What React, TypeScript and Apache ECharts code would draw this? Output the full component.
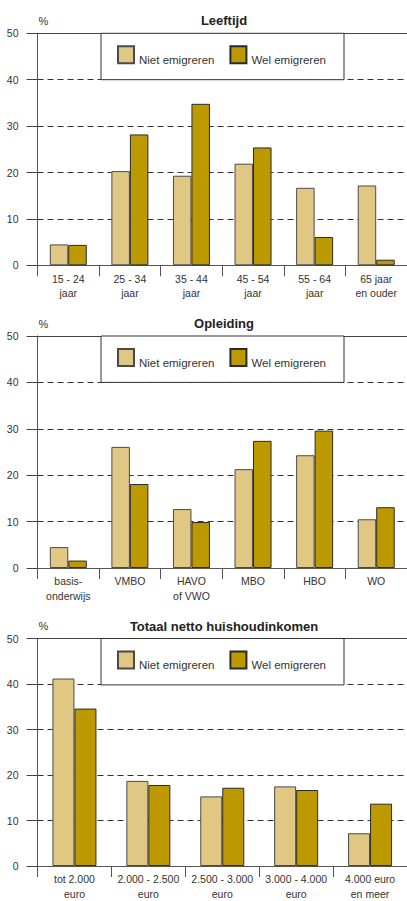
import React, { useEffect, useRef } from "react";
import * as echarts from "echarts";

const ageCats = ["15 - 24\njaar", "25 - 34\njaar", "35 - 44\njaar", "45 - 54\njaar", "55 - 64\njaar", "65 jaar\nen ouder"];
const ageNiet = [4.5, 20.3, 19.3, 21.9, 16.7, 17.2];
const ageWel = [4.4, 28.2, 34.8, 25.4, 6.1, 1.2];

const eduCats = ["basis-\nonderwijs", "VMBO", "HAVO\nof VWO", "MBO", "HBO", "WO"];
const eduNiet = [4.5, 26.1, 12.7, 21.3, 24.3, 10.5];
const eduWel = [1.6, 18.1, 9.9, 27.4, 29.6, 13.1];

const incCats = ["tot 2.000\neuro", "2.000 - 2.500\neuro", "2.500 - 3.000\neuro", "3.000 - 4.000\neuro", "4.000 euro\nen meer"];
const incNiet = [41.2, 18.7, 15.3, 17.5, 7.2];
const incWel = [34.6, 17.8, 17.2, 16.7, 13.7];

const titles = ["Leeftijd", "Opleiding", "Totaal netto huishoudinkomen"];
const seriesNames = ["Niet emigreren", "Wel emigreren"];
const yMin = 0;
const yMax = 50;
const yStep = 10;

const FONT = "'Liberation Sans', Arial, sans-serif";
const LIGHT = "#E0C784";
const DARK = "#BD9900";

export default function App() {
  const ref = useRef<HTMLDivElement>(null);
  useEffect(() => {
    document.body.style.margin = "0";
    if (!ref.current) return;
    const chart = echarts.init(ref.current, undefined, { renderer: "svg" });

    const panels = [
      { cats: ageCats, niet: ageNiet, wel: ageWel, top: 33.3, barW: 18.5 },
      { cats: eduCats, niet: eduNiet, wel: eduWel, top: 336, barW: 18.5 },
      { cats: incCats, niet: incNiet, wel: incWel, top: 638.5, barW: 22 },
    ];
    const H = 232;
    const LEFT = 37.5;
    const W = 370;

    const grid: any[] = [];
    const xAxis: any[] = [];
    const yAxis: any[] = [];
    const series: any[] = [];
    const legend: any[] = [];
    const graphic: any[] = [];

    panels.forEach((p, i) => {
      grid.push({ left: LEFT, top: p.top, width: W, height: H, containLabel: false });
      xAxis.push({
        type: "category",
        gridIndex: i,
        data: p.cats,
        position: "bottom",
        axisLine: { show: true, lineStyle: { color: "#555", width: 1 } },
        axisTick: { show: true, length: 11, lineStyle: { color: "#555", width: 1 } },
        axisLabel: { interval: 0, fontSize: 10.5, lineHeight: 14.5, margin: 6, color: "#333", fontFamily: FONT },
        splitLine: { show: false },
      });
      xAxis.push({
        type: "category",
        gridIndex: i,
        data: p.cats,
        position: "top",
        axisLine: { show: true, onZero: false, lineStyle: { color: "#444", width: 1 } },
        axisTick: { show: false },
        axisLabel: { show: false },
        splitLine: { show: false },
      });
      yAxis.push({
        type: "value",
        gridIndex: i,
        min: yMin,
        max: yMax,
        interval: yStep,
        axisLine: { show: true, lineStyle: { color: "#555", width: 1 } },
        axisTick: { show: true, length: 11, lineStyle: { color: "#444", width: 1 } },
        axisLabel: { fontSize: 10.5, margin: 19, color: "#333", fontFamily: FONT },
        splitLine: { show: true, lineStyle: { color: "#333", width: 1, type: [6, 4] } },
      });
      series.push({
        type: "bar",
        name: seriesNames[0],
        xAxisIndex: i * 2,
        yAxisIndex: i,
        data: p.niet,
        barWidth: p.barW,
        barGap: "0%",
        itemStyle: { color: LIGHT, borderColor: "#4a4a4a", borderWidth: 1 },
      });
      series.push({
        type: "bar",
        name: seriesNames[1],
        xAxisIndex: i * 2,
        yAxisIndex: i,
        data: p.wel,
        barWidth: p.barW,
        barGap: "0%",
        itemStyle: { color: DARK, borderColor: "#2a2a2a", borderWidth: 1 },
      });
      legend.push({
        data: seriesNames,
        left: 117,
        top: p.top + 12,
        icon: "rect",
        itemWidth: 16,
        itemHeight: 17,
        itemGap: 15,
        padding: 0,
        selectedMode: false,
        formatter: "{t|{name}}",
        textStyle: {
          fontSize: 11.5,
          color: "#333",
          fontFamily: FONT,
          rich: { t: { fontSize: 11.5, color: "#333", fontFamily: FONT, padding: [10, 0, 0, 0] } },
        },
      });
      graphic.push({
        type: "rect",
        z: 1,
        shape: { x: 101, y: p.top, width: 243, height: (H * yStep) / (yMax - yMin) },
        style: { fill: "#fff", stroke: "#333", lineWidth: 1 },
      });
      graphic.push({
        type: "text",
        z: 5,
        x: 224,
        y: p.top - 12.5,
        style: {
          text: titles[i],
          textAlign: "center",
          textVerticalAlign: "middle",
          fontSize: 13,
          fontWeight: "bold",
          fontFamily: FONT,
          fill: "#222",
        },
      });
      graphic.push({
        type: "text",
        z: 5,
        x: 38.5,
        y: p.top - 12.5,
        style: {
          text: "%",
          textAlign: "left",
          textVerticalAlign: "middle",
          fontSize: 11,
          fontFamily: FONT,
          fill: "#333",
        },
      });
    });

    chart.setOption({
      animation: false,
      backgroundColor: "#fff",
      textStyle: { fontFamily: FONT },
      grid,
      xAxis,
      yAxis,
      series,
      legend,
      graphic,
    });
    return () => chart.dispose();
  }, []);
  return <div ref={ref} style={{ width: 407, height: 901 }} />;
}
